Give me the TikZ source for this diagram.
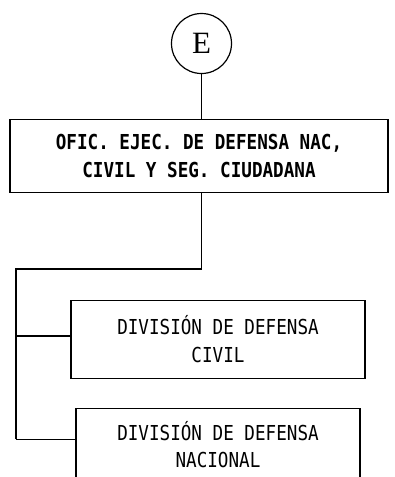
\documentclass[tikz,border=0pt]{standalone}
\usepackage{fontspec}
\usepackage{tikz}
\setmainfont{Liberation Serif}
\newfontfamily\gothic[FakeStretch=0.855]{DejaVu Sans Mono}
\newfontfamily\gothicb[FakeStretch=0.855]{DejaVu Sans Mono Bold}

\begin{document}
\begin{tikzpicture}[x=1pt,y=-1pt,line width=1.6pt,
    unit/.style={draw,rectangle,align=center,inner sep=0pt},
    conn/.style={draw,circle,line width=1.2pt,minimum size=60pt,inner sep=0pt}]
        \useasboundingbox (0,0) rectangle (394,477);

        \node[conn,font=\fontsize{31}{31}\selectfont] (e) at (201.5,43.5) {E};
        \node[unit,minimum width=378pt,minimum height=73pt,
              font=\gothicb\fontsize{20.6}{27.5}\selectfont] (ofic) at (199,156)
              {OFIC. EJEC. DE DEFENSA NAC,\\CIVIL Y SEG. CIUDADANA};
        \node[unit,minimum width=294pt,minimum height=78pt,
              font=\gothic\fontsize{20.6}{28}\selectfont] (divciv) at (218,339.5)
              {DIVISIÓN DE DEFENSA\\CIVIL};
        \node[unit,minimum width=284pt,minimum height=73pt,
              font=\gothic\fontsize{20.6}{27.5}\selectfont] (divnac) at (218,444.8)
              {DIVISIÓN DE DEFENSA\\NACIONAL};
        \coordinate (bus) at (15.7,269);

        \draw (e.south) -- (e.south |- ofic.north);
        \draw (e.south |- ofic.south) |- (bus) -- (bus |- 0,439.3);
        \draw (bus |- 0,335.7) -- ([yshift=3.8pt]divciv.west);
        \draw (bus |- 0,439.3) -- ([yshift=5.5pt]divnac.west);
    \end{tikzpicture}
\end{document}
